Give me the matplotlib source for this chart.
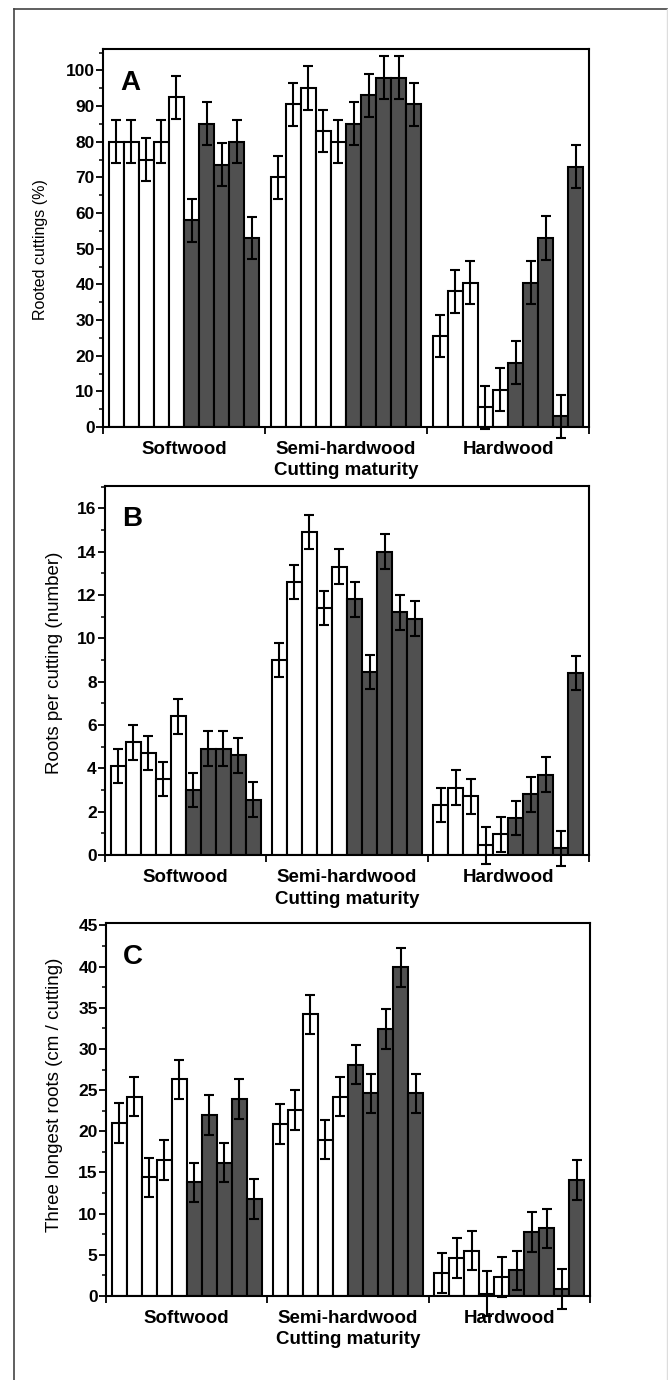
import matplotlib
matplotlib.use('Agg')
import matplotlib.pyplot as plt
from matplotlib.ticker import MultipleLocator, FixedLocator, NullFormatter, FixedFormatter
from matplotlib.lines import Line2D
import numpy as np

plt.rcParams['font.family'] = ['Liberation Sans', 'DejaVu Sans']

groups = ['Softwood', 'Semi-hardwood', 'Hardwood']
x_title = 'Cutting maturity'

# Panel A: Rooted cuttings (%)  -- per group: 5 white bars then 5 dark bars
rooted_softwood = [80, 80, 75, 80, 92.5, 58, 85, 73.5, 80, 53]
rooted_semihard = [70, 90.5, 95, 83, 80, 85, 93, 98, 98, 90.5]
rooted_hardwood = [25.5, 38, 40.5, 5.5, 10.5, 18, 40.5, 53, 3, 73]
rooted_err = [6, 6, 6, 6, 6, 6, 6, 6, 6, 6,
              6, 6, 6.2, 6, 6, 6, 6, 6, 6, 6,
              6, 6, 6, 6, 6, 6, 6, 6.2, 6, 6]

# Panel B: Roots per cutting (number)
roots_softwood = [4.1, 5.2, 4.7, 3.5, 6.4, 3.0, 4.9, 4.9, 4.6, 2.55]
roots_semihard = [9.0, 12.6, 14.9, 11.4, 13.3, 11.8, 8.45, 14.0, 11.2, 10.9]
roots_hardwood = [2.3, 3.1, 2.7, 0.45, 0.95, 1.7, 2.8, 3.7, 0.3, 8.4]
roots_err = [0.8, 0.8, 0.8, 0.8, 0.8, 0.8, 0.8, 0.8, 0.8, 0.8,
             0.8, 0.8, 0.8, 0.8, 0.8, 0.8, 0.8, 0.8, 0.8, 0.8,
             0.8, 0.8, 0.8, 0.85, 0.8, 0.8, 0.8, 0.8, 0.8, 0.8]

# Panel C: Three longest roots (cm / cutting)
length_softwood = [21.0, 24.2, 14.4, 16.5, 26.3, 13.8, 22.0, 16.2, 23.9, 11.8]
length_semihard = [20.9, 22.6, 34.2, 19.0, 24.2, 28.1, 24.6, 32.4, 39.9, 24.6]
length_hardwood = [2.8, 4.6, 5.5, 0.3, 2.3, 3.1, 7.8, 8.2, 0.85, 14.1]
length_err = [2.4, 2.4, 2.4, 2.4, 2.4, 2.4, 2.4, 2.4, 2.4, 2.4,
              2.4, 2.4, 2.4, 2.4, 2.4, 2.4, 2.4, 2.4, 2.4, 2.4,
              2.4, 2.4, 2.4, 2.7, 2.4, 2.4, 2.4, 2.4, 2.4, 2.4]

panels = [
    dict(letter='A', data=[rooted_softwood, rooted_semihard, rooted_hardwood], err=rooted_err,
         ylabel='Rooted cuttings (%)', ylab_size=11.5, ylim=106, major=10, minor=5,
         rect_px=(103, 49, 589, 427), ylab_x=48, ylab_y=0.47),
    dict(letter='B', data=[roots_softwood, roots_semihard, roots_hardwood], err=roots_err,
         ylabel='Roots per cutting (number)', ylab_size=13.5, ylim=17.03, major=2, minor=1,
         rect_px=(105, 486, 589, 855), ylab_x=63, ylab_y=0.52),
    dict(letter='C', data=[length_softwood, length_semihard, length_hardwood], err=length_err,
         ylabel='Three longest roots (cm / cutting)', ylab_size=13.5, ylim=45.3, major=5, minor=2.5,
         rect_px=(106, 923, 590, 1296), ylab_x=63, ylab_y=0.54),
]

W, H = 668, 1380
fig = plt.figure(figsize=(W / 100, H / 100), dpi=100)

# outer frame of the figure
fig.add_artist(Line2D([14 / W, 14 / W], [0, 1 - 9 / H], transform=fig.transFigure, color='#444444', lw=1.2))
fig.add_artist(Line2D([14 / W, 1], [1 - 9 / H, 1 - 9 / H], transform=fig.transFigure, color='#444444', lw=1.2))
fig.add_artist(Line2D([666.5 / W, 666.5 / W], [0, 1 - 9 / H], transform=fig.transFigure, color='#dddddd', lw=1.0))

bar_w = 0.093
offset = 0.035
white = '#ffffff'
dark = '#505050'

for p in panels:
    l, t, r, b = p['rect_px']
    ax = fig.add_axes([l / W, 1 - b / H, (r - l) / W, (b - t) / H])
    vals = []
    xs = []
    cols = []
    for g, gvals in enumerate(p['data']):
        for i, v in enumerate(gvals):
            xs.append(g + offset + (i + 0.5) * bar_w)
            vals.append(v)
            cols.append(white if i < 5 else dark)
    ax.bar(xs, vals, width=bar_w, color=cols, edgecolor='black', linewidth=1.5, zorder=2)
    ax.errorbar(xs, vals, yerr=p['err'], fmt='none', ecolor='black', elinewidth=1.5,
                capsize=3.3, capthick=1.5, zorder=3, clip_on=False)
    ax.set_xlim(0, 3)
    ax.set_ylim(0, p['ylim'])
    for s in ax.spines.values():
        s.set_linewidth(1.5)
    ax.yaxis.set_major_locator(MultipleLocator(p['major']))
    ax.yaxis.set_minor_locator(MultipleLocator(p['minor']))
    ax.tick_params(axis='y', which='major', direction='out', length=5, width=1.3,
                   labelsize=12.5, pad=1)
    ax.tick_params(axis='y', which='minor', direction='out', length=3, width=1.1)
    for lab in ax.get_yticklabels():
        lab.set_fontweight('bold')
    ax.xaxis.set_major_locator(FixedLocator([0, 1, 2, 3]))
    ax.xaxis.set_major_formatter(NullFormatter())
    ax.xaxis.set_minor_locator(FixedLocator([0.5, 1.5, 2.5]))
    ax.xaxis.set_minor_formatter(FixedFormatter(groups))
    ax.tick_params(axis='x', which='major', direction='out', length=5, width=1.3)
    ax.tick_params(axis='x', which='minor', length=0, pad=10, labelsize=13.5)
    for lab in ax.get_xticklabels(minor=True):
        lab.set_fontweight('bold')
    hpx = b - t
    ax.text(0.5, -44 / hpx, x_title, transform=ax.transAxes, ha='center', va='center',
            fontsize=13.5, fontweight='bold')
    ax.set_ylabel(p['ylabel'], fontsize=p['ylab_size'])
    ax.yaxis.set_label_coords((p['ylab_x'] - l) / (r - l), p['ylab_y'])
    ax.text(0.035, 0.91, p['letter'], transform=ax.transAxes, fontsize=20,
            fontweight='bold', ha='left', va='center')

fig.savefig('out.png', dpi=100)
